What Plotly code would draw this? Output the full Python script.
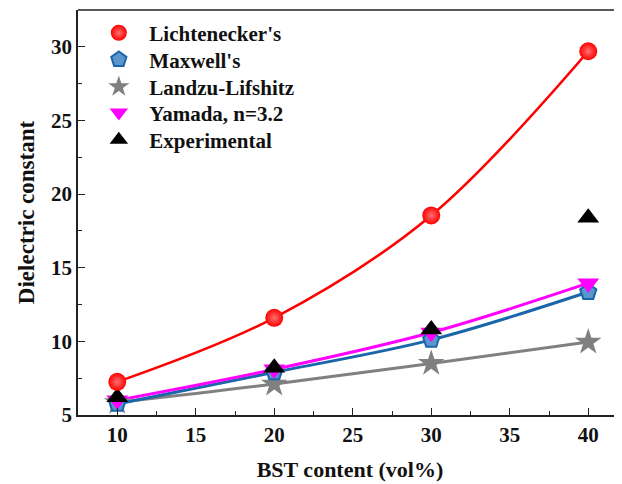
import plotly.graph_objects as go

x_vals = [10, 20, 30, 40]
lichtenecker = [7.25, 11.6, 18.55, 29.7]
maxwell = [5.75, 7.9, 10.1, 13.35]
landau = [5.85, 7.1, 8.5, 9.95]
yamada = [6.0, 8.1, 10.6, 13.95]
experimental = [6.2, 8.2, 10.8, 18.4]

names = ["Lichtenecker's", "Maxwell's", "Landzu-Lifshitz", "Yamada, n=3.2", "Experimental"]

FONT = "Liberation Serif"

fig = go.Figure()

# lines (drawn first so markers sit on top)
fig.add_trace(go.Scatter(x=x_vals, y=landau, mode="lines", line=dict(color="#808080", width=3, shape="spline"),
                         showlegend=False, hoverinfo="skip"))
fig.add_trace(go.Scatter(x=x_vals, y=maxwell, mode="lines", line=dict(color="#1a66ab", width=3, shape="spline"),
                         showlegend=False, hoverinfo="skip"))
fig.add_trace(go.Scatter(x=x_vals, y=yamada, mode="lines", line=dict(color="#ff00ff", width=3, shape="spline"),
                         showlegend=False, hoverinfo="skip"))
fig.add_trace(go.Scatter(x=x_vals, y=lichtenecker, mode="lines", line=dict(color="#ff0000", width=2.6, shape="spline"),
                         showlegend=False, hoverinfo="skip"))

# markers (each in its own single-entry legend for precise spacing)
fig.add_trace(go.Scatter(x=x_vals, y=landau, mode="markers", name=names[2], legend="legend3",
                         marker=dict(symbol="star", size=20, color="#808080", line=dict(width=0))))
fig.add_trace(go.Scatter(x=x_vals, y=maxwell, mode="markers", name=names[1], legend="legend2",
                         marker=dict(symbol="pentagon", size=17, color="#5a95cc", line=dict(width=2, color="#1a66ab"))))
fig.add_trace(go.Scatter(x=x_vals, y=yamada, mode="markers", name=names[3], legend="legend4",
                         marker=dict(symbol="triangle-down", size=19, color="#ff00ff", line=dict(width=0))))
fig.add_trace(go.Scatter(x=x_vals, y=experimental, mode="markers", name=names[4], legend="legend5",
                         marker=dict(symbol="triangle-up", size=19, color="#000000", line=dict(width=0))))
fig.add_trace(go.Scatter(x=x_vals, y=lichtenecker, mode="markers", name=names[0], legend="legend",
                         marker=dict(symbol="circle", size=18, color="#ff0000", line=dict(width=0),
                                     gradient=dict(type="radial", color="#ff7070"))))

axis_common = dict(
    showline=True, linecolor="#222222", linewidth=1.5,
    ticks="inside", ticklen=7, tickwidth=1.3, tickcolor="#222222",
    showgrid=False, zeroline=False, automargin=False,
    tickfont=dict(family=FONT, size=21, color="#111111", weight="bold"),
)

legend_style = dict(x=0.019, xanchor="left", yanchor="middle",
                    bgcolor="rgba(255,255,255,0)", borderwidth=0,
                    font=dict(family=FONT, size=21, color="#111111", weight="bold"),
                    itemwidth=51)
legend_ys = [0.943, 0.877, 0.810, 0.746, 0.679]

fig.update_layout(
    width=614, height=476,
    margin=dict(l=70, r=0, t=2, b=69),
    plot_bgcolor="white", paper_bgcolor="white",
    font=dict(family=FONT, color="#111111"),
    showlegend=True,
    legend=dict(y=legend_ys[0], **legend_style),
    legend2=dict(y=legend_ys[1], **legend_style),
    legend3=dict(y=legend_ys[2], **legend_style),
    legend4=dict(y=legend_ys[3], **legend_style),
    legend5=dict(y=legend_ys[4], **legend_style),
    xaxis=dict(range=[7.5, 42.15], tickvals=[10, 15, 20, 25, 30, 35, 40],
               minor=dict(ticks="inside", ticklen=4, tickwidth=1.2, tickcolor="#222222", dtick=2.5),
               title=dict(text="BST content (vol%)", font=dict(family=FONT, size=22, weight="bold"), standoff=16),
               **axis_common),
    yaxis=dict(range=[5, 32.5], tickvals=[5, 10, 15, 20, 25, 30],
               minor=dict(ticks="inside", ticklen=4, tickwidth=1.2, tickcolor="#222222", dtick=2.5),
               title=dict(text="Dielectric constant", font=dict(family=FONT, size=23, weight="bold"), standoff=10),
               **axis_common),
)

# top border line
fig.add_shape(type="line", xref="paper", yref="paper", x0=0, x1=1, y0=1, y1=1,
              line=dict(color="#222222", width=1.5))

fig.write_html("out.html")
